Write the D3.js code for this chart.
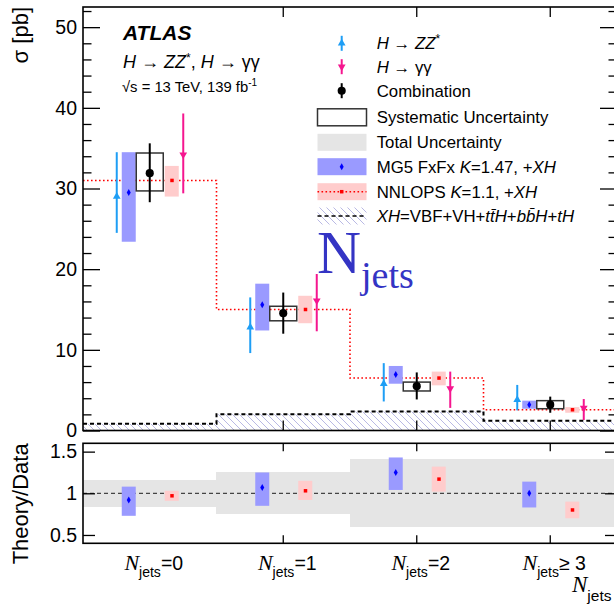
<!DOCTYPE html>
<html>
<head>
<meta charset="utf-8">
<script src="https://cdn.jsdelivr.net/npm/d3@7"></script>
<style>
  body { margin: 0; background: #fff; }
  svg { display: block; font-family: "Liberation Sans", Arial, sans-serif; }
</style>
</head>
<body>
<div id="chart"></div>
<script>
// bins
var cats = ["0", "1", "2", "3"];
var catText = ["=0", "=1", "=2", "\u2265 3"];

// H -> ZZ*
var zzVal = [29.0, 12.8, 5.8, 3.8];
var zzHi  = [34.5, 16.5, 8.35, 5.65];
var zzLo  = [24.5, 9.6, 3.6, 2.5];
// H -> yy
var ggVal = [34.2, 16.1, 5.2, 2.8];
var ggHi  = [39.3, 19.4, 7.3, 3.9];
var ggLo  = [29.4, 12.3, 2.8, 1.3];
// combination
var combVal = [31.9, 14.55, 5.5, 3.2];
var combHi  = [35.6, 17.1, 7.2, 4.2];
var combLo  = [28.3, 12.0, 3.85, 2.2];
var sysHi   = [34.4, 15.4, 6.0, 3.7];
var sysLo   = [29.7, 13.6, 4.9, 2.7];
// predictions
var mgVal = [29.5, 15.6, 6.95, 3.2];
var mgHi  = [34.5, 18.2, 8.0, 3.7];
var mgLo  = [23.4, 12.4, 5.8, 2.7];
var nnVal = [31.0, 15.0, 6.5, 2.57];
var nnHi  = [32.8, 16.7, 7.3, 2.9];
var nnLo  = [29.0, 13.3, 5.6, 2.2];
var xhVal = [0.83, 2.02, 2.36, 1.2];

// ratio panel
var totHi = [1.16, 1.25, 1.41, 1.41];
var totLo = [0.84, 0.75, 0.60, 0.60];
var mgRVal = [0.92, 1.07, 1.25, 1.0];
var mgRHi  = [1.08, 1.25, 1.43, 1.14];
var mgRLo  = [0.73, 0.85, 1.04, 0.83];
var nnRVal = [0.97, 1.03, 1.17, 0.80];
var nnRHi  = [1.03, 1.15, 1.32, 0.90];
var nnRLo  = [0.91, 0.92, 1.02, 0.70];

var yMajor = [0, 10, 20, 30, 40, 50];
var rTicks = [0.5, 1, 1.5];

var W = 614, H = 605;
var left = 83, right = 617;
var mainTop = 7, mainBot = 430.5;
var ratTop = 443.3, ratBot = 543.3;

var cyan = "#1e9ef5", magenta = "#f5168f", blueBox = "#9a9aff", pinkBox = "#ffcccc";

var svg = d3.select("#chart").append("svg")
  .attr("width", W).attr("height", H);

var defs = svg.append("defs");
var pat = defs.append("pattern").attr("id", "hatch")
  .attr("patternUnits", "userSpaceOnUse").attr("width", 7).attr("height", 7);
pat.append("path").attr("d", "M0,0L7,7M-1,6L1,8M6,-1L8,1")
  .attr("stroke", "#b9b9e4").attr("stroke-width", 1);

var x = d3.scaleBand().domain(cats).range([left, right]);
var y = d3.scaleLinear().domain([0, 52.5]).range([mainBot, mainTop]);
var r = d3.scaleLinear().domain([0.4, 1.6]).range([ratBot, ratTop]);
var cx = function(i) { return x(cats[i]) + x.bandwidth() / 2; };
var idx = d3.range(cats.length);

// ---------- main panel ----------
var main = svg.append("g");

// XH hatched area with dashed top
var stepPts = function(vals) {
  var p = idx.map(function(i) { return [x(cats[i]), vals[i]]; });
  p.push([right, vals[vals.length - 1]]);
  return p;
};
var area = d3.area().curve(d3.curveStepAfter)
  .x(function(d) { return d[0]; }).y0(y(0)).y1(function(d) { return y(d[1]); });
var line = d3.line().curve(d3.curveStepAfter)
  .x(function(d) { return d[0]; }).y(function(d) { return y(d[1]); });

main.append("path").attr("d", area(stepPts(xhVal))).attr("fill", "url(#hatch)");
main.append("path").attr("d", line(stepPts(xhVal)))
  .attr("fill", "none").attr("stroke", "#000").attr("stroke-width", 2)
  .attr("stroke-dasharray", "4,3");

// NNLOPS step line
main.append("path").attr("d", line(stepPts(nnVal)))
  .attr("fill", "none").attr("stroke", "#f00").attr("stroke-width", 1.6)
  .attr("stroke-dasharray", "1.6,2.4");

// MG5 boxes
main.selectAll(".mg").data(idx).enter().append("rect")
  .attr("x", function(i) { return cx(i) - 28; }).attr("width", 14)
  .attr("y", function(i) { return y(mgHi[i]); })
  .attr("height", function(i) { return y(mgLo[i]) - y(mgHi[i]); })
  .attr("fill", blueBox);
main.selectAll(".mgc").data(idx).enter().append("path")
  .attr("transform", function(i) { return "translate(" + (cx(i) - 21) + "," + y(mgVal[i]) + ")"; })
  .attr("d", d3.symbol(d3.symbolDiamond, 14)).attr("fill", "#00f");

// NNLOPS boxes
main.selectAll(".nn").data(idx).enter().append("rect")
  .attr("x", function(i) { return cx(i) + 15; }).attr("width", 14)
  .attr("y", function(i) { return y(nnHi[i]); })
  .attr("height", function(i) { return y(nnLo[i]) - y(nnHi[i]); })
  .attr("fill", pinkBox);
main.selectAll(".nnc").data(idx).enter().append("rect")
  .attr("x", function(i) { return cx(i) + 20.5; }).attr("width", 3.5)
  .attr("y", function(i) { return y(nnVal[i]) - 1.75; }).attr("height", 3.5)
  .attr("fill", "#f00");

// systematic boxes
main.selectAll(".sys").data(idx).enter().append("rect")
  .attr("x", function(i) { return cx(i) - 13.5; }).attr("width", 27)
  .attr("y", function(i) { return y(sysHi[i]); })
  .attr("height", function(i) { return y(sysLo[i]) - y(sysHi[i]); })
  .attr("fill", "none").attr("stroke", "#333").attr("stroke-width", 1.5);

// measurements
function points(vals, hi, lo, dx, color, sym, rot) {
  main.selectAll(null).data(idx).enter().append("line")
    .attr("x1", function(i) { return cx(i) + dx; }).attr("x2", function(i) { return cx(i) + dx; })
    .attr("y1", function(i) { return y(hi[i]); }).attr("y2", function(i) { return y(lo[i]); })
    .attr("stroke", color).attr("stroke-width", 2);
  main.selectAll(null).data(idx).enter().append("path")
    .attr("transform", function(i) { return "translate(" + (cx(i) + dx) + "," + y(vals[i]) + ") rotate(" + rot + ")"; })
    .attr("d", sym).attr("fill", color);
}
points(zzVal, zzHi, zzLo, -33, cyan, d3.symbol(d3.symbolTriangle, 26)(), 0);
points(ggVal, ggHi, ggLo, 33.5, magenta, d3.symbol(d3.symbolTriangle, 26)(), 180);
points(combVal, combHi, combLo, 0, "#000", d3.symbol(d3.symbolCircle, 52)(), 0);

// axes main
main.append("g").attr("transform", "translate(" + left + ",0)")
  .call(d3.axisLeft(y).tickValues(yMajor).tickSize(-17).tickPadding(6));
main.append("g").attr("transform", "translate(" + left + ",0)")
  .call(d3.axisLeft(y).tickValues(d3.range(0, 53, 2).filter(function(v) { return v % 10; }))
    .tickSize(-8.5).tickFormat(""));
main.append("g").attr("transform", "translate(" + right + ",0)")
  .call(d3.axisRight(y).tickValues(yMajor).tickSize(-17).tickFormat(""));
main.append("g").attr("transform", "translate(" + right + ",0)")
  .call(d3.axisRight(y).tickValues(d3.range(0, 53, 2).filter(function(v) { return v % 10; }))
    .tickSize(-8.5).tickFormat(""));
var bounds = cats.slice(1);
main.append("g").attr("transform", "translate(0," + mainTop + ")")
  .call(d3.axisTop(x).tickValues(bounds).offset(-x.bandwidth() / 2).tickSize(-10).tickFormat(""));
main.append("g").attr("transform", "translate(0," + mainBot + ")")
  .call(d3.axisBottom(x).tickValues(bounds).offset(-x.bandwidth() / 2).tickSize(-10).tickFormat(""));

// ---------- ratio panel ----------
var rat = svg.append("g");
rat.selectAll(".tot").data(idx).enter().append("rect")
  .attr("x", function(i) { return x(cats[i]) - 0.5; }).attr("width", x.bandwidth() + 1)
  .attr("y", function(i) { return r(totHi[i]); })
  .attr("height", function(i) { return r(totLo[i]) - r(totHi[i]); })
  .attr("fill", "#e5e5e5").attr("shape-rendering", "crispEdges");
rat.append("line").attr("x1", left).attr("x2", right).attr("y1", r(1)).attr("y2", r(1))
  .attr("stroke", "#444").attr("stroke-width", 1.3).attr("stroke-dasharray", "4,3");
rat.selectAll(".mgr").data(idx).enter().append("rect")
  .attr("x", function(i) { return cx(i) - 28; }).attr("width", 14)
  .attr("y", function(i) { return r(mgRHi[i]); })
  .attr("height", function(i) { return r(mgRLo[i]) - r(mgRHi[i]); })
  .attr("fill", blueBox);
rat.selectAll(".mgrc").data(idx).enter().append("path")
  .attr("transform", function(i) { return "translate(" + (cx(i) - 21) + "," + r(mgRVal[i]) + ")"; })
  .attr("d", d3.symbol(d3.symbolDiamond, 14)).attr("fill", "#00f");
rat.selectAll(".nnr").data(idx).enter().append("rect")
  .attr("x", function(i) { return cx(i) + 15; }).attr("width", 14)
  .attr("y", function(i) { return r(nnRHi[i]); })
  .attr("height", function(i) { return r(nnRLo[i]) - r(nnRHi[i]); })
  .attr("fill", pinkBox);
rat.selectAll(".nnrc").data(idx).enter().append("rect")
  .attr("x", function(i) { return cx(i) + 20.5; }).attr("width", 3.5)
  .attr("y", function(i) { return r(nnRVal[i]) - 1.75; }).attr("height", 3.5)
  .attr("fill", "#f00");

rat.append("g").attr("transform", "translate(" + left + ",0)")
  .call(d3.axisLeft(r).tickValues(rTicks).tickSize(-12).tickPadding(6).tickFormat(d3.format("")));
rat.append("g").attr("transform", "translate(" + right + ",0)")
  .call(d3.axisRight(r).tickValues(rTicks).tickSize(-12).tickFormat(""));
rat.append("g").attr("transform", "translate(0," + ratTop + ")")
  .call(d3.axisTop(x).tickValues(bounds).offset(-x.bandwidth() / 2).tickSize(-8).tickFormat(""));
rat.append("g").attr("transform", "translate(0," + ratBot + ")")
  .call(d3.axisBottom(x).tickValues(bounds).offset(-x.bandwidth() / 2).tickSize(-8).tickFormat(""));

// style axes + frames
svg.selectAll(".domain").remove();
svg.selectAll(".tick line").attr("stroke", "#000").attr("stroke-width", 1.3);
svg.selectAll(".tick text").attr("font-size", 19.5).attr("fill", "#000")
  .attr("font-family", "Liberation Sans, Arial, sans-serif");
[[mainTop, mainBot], [ratTop, ratBot]].forEach(function(f) {
  svg.append("rect").attr("x", left).attr("y", f[0]).attr("width", right - left)
    .attr("height", f[1] - f[0]).attr("fill", "none").attr("stroke", "#000").attr("stroke-width", 1.6);
});

// category labels
var lab = svg.selectAll(".cat").data(idx).enter().append("text")
  .attr("x", function(i) { return cx(i) + 4; }).attr("y", 570)
  .attr("text-anchor", "middle").attr("font-size", 19.5);
lab.append("tspan").text("N").attr("font-family", "Liberation Serif, serif").attr("font-style", "italic").attr("font-size", 22);
lab.append("tspan").text("jets").attr("font-size", 14).attr("dy", 6.5);
lab.append("tspan").text(function(i) { return catText[i]; }).attr("dy", -6.5);

var xt = svg.append("text").attr("x", 572).attr("y", 592).attr("font-size", 19.5);
xt.append("tspan").text("N").attr("font-family", "Liberation Serif, serif").attr("font-style", "italic").attr("font-size", 23);
xt.append("tspan").text("jets").attr("font-size", 15.5).attr("dy", 8.5);

// axis titles
svg.append("text").attr("transform", "translate(28," + mainTop + ") rotate(-90)")
  .attr("text-anchor", "end").attr("font-size", 22).text("\u03c3 [pb]");
svg.append("text").attr("transform", "translate(28," + ratTop + ") rotate(-90)")
  .attr("text-anchor", "end").attr("font-size", 22).text("Theory/Data");

// ATLAS text
svg.append("text").attr("x", 123).attr("y", 40).attr("font-size", 21)
  .attr("font-weight", "bold").attr("font-style", "italic").text("ATLAS");
var t1 = svg.append("text").attr("x", 123).attr("y", 68).attr("font-size", 18);
t1.append("tspan").text("H").attr("font-style", "italic");
t1.append("tspan").text(" \u2192 ");
t1.append("tspan").text("ZZ").attr("font-style", "italic");
t1.append("tspan").text("*").attr("font-size", 12).attr("dy", -6);
t1.append("tspan").text(", ").attr("dy", 6);
t1.append("tspan").text("H").attr("font-style", "italic");
t1.append("tspan").text(" \u2192 \u03b3\u03b3");
var t2 = svg.append("text").attr("x", 122).attr("y", 92).attr("font-size", 14.8);
t2.append("tspan").text("\u221as = 13 TeV, 139 fb");
t2.append("tspan").text("-1").attr("font-size", 10).attr("dy", -6);

// big label
var nj = svg.append("text").attr("x", 317).attr("y", 273)
  .attr("font-family", "Liberation Serif, serif").attr("fill", "#3434c4").attr("font-size", 61);
nj.append("tspan").text("N");
nj.append("tspan").text("jets").attr("font-size", 38).attr("dy", 15);

// legend
var lg = svg.append("g");
var lx = 341.7, tx = 376.7;
var rowY = [43.3, 66.7, 90.7, 117.3, 142.3, 166.7, 191.7, 216];
function legText(row, parts) {
  var t = lg.append("text").attr("x", tx).attr("y", rowY[row] + 6).attr("font-size", 16.8);
  parts.forEach(function(p) {
    var s = t.append("tspan").text(p[0]);
    if (p[1]) s.attr("font-style", "italic");
    if (p[2]) s.attr("font-size", p[2]).attr("dy", p[3]);
  });
}
function legPoint(row, color, sym, rot) {
  lg.append("line").attr("x1", lx).attr("x2", lx).attr("y1", rowY[row] - 7.5).attr("y2", rowY[row] + 7.5)
    .attr("stroke", color).attr("stroke-width", 2);
  lg.append("path").attr("transform", "translate(" + lx + "," + rowY[row] + ") rotate(" + rot + ")")
    .attr("d", sym).attr("fill", color);
}
legPoint(0, cyan, d3.symbol(d3.symbolTriangle, 26)(), 0);
legPoint(1, magenta, d3.symbol(d3.symbolTriangle, 26)(), 180);
legPoint(2, "#000", d3.symbol(d3.symbolCircle, 52)(), 0);
function legBox(row) {
  return lg.append("rect").attr("x", 317.5).attr("y", rowY[row] - 8.5).attr("width", 49).attr("height", 17);
}
legBox(3).attr("fill", "none").attr("stroke", "#333").attr("stroke-width", 1.5);
legBox(4).attr("fill", "#e5e5e5");
legBox(5).attr("fill", blueBox);
lg.append("path").attr("transform", "translate(" + lx + "," + rowY[5] + ")")
  .attr("d", d3.symbol(d3.symbolDiamond, 14)).attr("fill", "#00f");
legBox(6).attr("fill", pinkBox);
lg.append("line").attr("x1", 317.5).attr("x2", 366.5).attr("y1", rowY[6]).attr("y2", rowY[6])
  .attr("stroke", "#f00").attr("stroke-width", 1.4).attr("stroke-dasharray", "1.6,2.4");
lg.append("rect").attr("x", lx - 1.75).attr("y", rowY[6] - 1.75).attr("width", 3.5).attr("height", 3.5).attr("fill", "#f00");
legBox(7).attr("fill", "url(#hatch)");
lg.append("line").attr("x1", 317.5).attr("x2", 366.5).attr("y1", rowY[7]).attr("y2", rowY[7])
  .attr("stroke", "#000").attr("stroke-width", 1.4).attr("stroke-dasharray", "4,3");

legText(0, [["H", 1], [" \u2192 "], ["ZZ", 1], ["*", 0, 12, -6]]);
legText(1, [["H", 1], [" \u2192 \u03b3\u03b3"]]);
legText(2, [["Combination"]]);
legText(3, [["Systematic Uncertainty"]]);
legText(4, [["Total Uncertainty"]]);
legText(5, [["MG5 FxFx "], ["K", 1], ["=1.47, +"], ["XH", 1]]);
legText(6, [["NNLOPS "], ["K", 1], ["=1.1, +"], ["XH", 1]]);
legText(7, [["XH", 1], ["=VBF+VH+"], ["t", 1], ["t\u0304", 1], ["H", 1], ["+"], ["b", 1], ["b\u0304", 1], ["H", 1], ["+"], ["tH", 1]]);
</script>
</body>
</html>
